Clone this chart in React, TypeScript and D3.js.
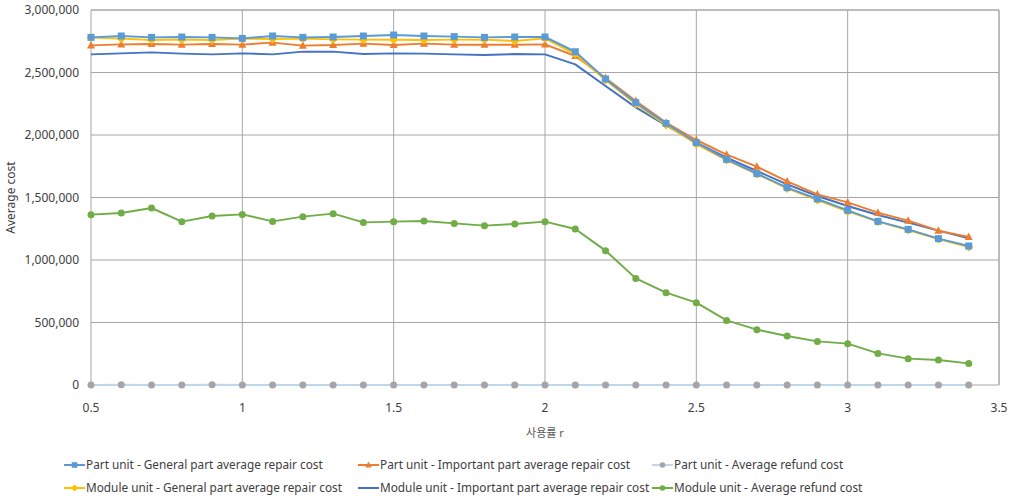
import React, { useRef, useEffect } from "react";
import * as d3 from "d3";

// usage rate r, 0.5 .. 3.4
const xs = [0.5, 0.6, 0.7, 0.8, 0.9, 1.0, 1.1, 1.2, 1.3, 1.4, 1.5, 1.6, 1.7, 1.8, 1.9, 2.0, 2.1, 2.2, 2.3, 2.4, 2.5, 2.6, 2.7, 2.8, 2.9, 3.0, 3.1, 3.2, 3.3, 3.4];

const partGeneral = [2781000, 2792000, 2781000, 2784000, 2781000, 2773000, 2792000, 2781000, 2784000, 2792000, 2800000, 2792000, 2787000, 2781000, 2784000, 2784000, 2666000, 2448000, 2259000, 2093000, 1939000, 1805000, 1691000, 1579000, 1488000, 1397000, 1309000, 1245000, 1171000, 1112000];
const partImportant = [2717000, 2725000, 2728000, 2723000, 2728000, 2723000, 2739000, 2715000, 2720000, 2731000, 2720000, 2731000, 2723000, 2723000, 2723000, 2725000, 2632000, 2456000, 2272000, 2099000, 1960000, 1843000, 1747000, 1629000, 1525000, 1461000, 1379000, 1315000, 1235000, 1184000];
const partRefund = [0, 3000, 0, 0, 3000, 0, 0, 0, 0, 0, 0, 0, 0, 0, 0, 0, 0, 0, 0, 0, 0, 0, 0, 0, 0, 0, 0, 0, 0, 0];
const moduleGeneral = [2779000, 2771000, 2760000, 2763000, 2760000, 2771000, 2768000, 2771000, 2765000, 2763000, 2763000, 2760000, 2763000, 2763000, 2752000, 2773000, 2648000, 2440000, 2248000, 2080000, 1928000, 1800000, 1688000, 1573000, 1480000, 1389000, 1307000, 1240000, 1168000, 1104000];
const moduleImportant = [2645000, 2653000, 2661000, 2651000, 2645000, 2653000, 2645000, 2667000, 2667000, 2648000, 2653000, 2651000, 2645000, 2640000, 2648000, 2645000, 2565000, 2392000, 2221000, 2077000, 1939000, 1819000, 1712000, 1605000, 1512000, 1432000, 1360000, 1299000, 1235000, 1173000];
const moduleRefund = [1363000, 1376000, 1416000, 1307000, 1352000, 1365000, 1309000, 1347000, 1371000, 1301000, 1307000, 1312000, 1293000, 1275000, 1288000, 1307000, 1248000, 1075000, 853000, 739000, 659000, 517000, 443000, 392000, 349000, 331000, 253000, 211000, 200000, 173000];

const xTicks = [0.5, 1, 1.5, 2, 2.5, 3, 3.5];
const yTicks = [0, 500000, 1000000, 1500000, 2000000, 2500000, 3000000];

const seriesNames = [
  "Part unit - General part average repair cost",
  "Part unit - Important part average repair cost",
  "Part unit - Average refund cost",
  "Module unit - General part average repair cost",
  "Module unit - Important part average repair cost",
  "Module unit - Average refund cost",
];

const W = 1011;
const H = 499;
const FONT = "'Noto Sans', 'Noto Sans CJK KR', sans-serif";

type Marker = "square" | "triangle" | "circle" | "diamond" | "none";

const App = () => {
  const ref = useRef<SVGSVGElement>(null);

  useEffect(() => {
    const svg = d3.select(ref.current);
    svg.selectAll("*").remove();

    const series: { name: string; values: number[]; line: string; fill: string; marker: Marker }[] = [
      { name: seriesNames[0], values: partGeneral, line: "#5B9BD5", fill: "#5B9BD5", marker: "square" },
      { name: seriesNames[1], values: partImportant, line: "#ED7D31", fill: "#ED7D31", marker: "triangle" },
      { name: seriesNames[2], values: partRefund, line: "#BDD7EE", fill: "#A5A5A5", marker: "circle" },
      { name: seriesNames[3], values: moduleGeneral, line: "#FFC000", fill: "#FFC000", marker: "diamond" },
      { name: seriesNames[4], values: moduleImportant, line: "#4472C4", fill: "#4472C4", marker: "none" },
      { name: seriesNames[5], values: moduleRefund, line: "#70AD47", fill: "#70AD47", marker: "circle" },
    ];

    const x = d3.scaleLinear().domain([0.5, 3.5]).range([91, 999]);
    const y = d3.scaleLinear().domain([0, 3000000]).range([385, 10]);

    const grid = svg.append("g");
    grid
      .selectAll("line.h")
      .data(yTicks)
      .join("line")
      .attr("x1", x(0.5))
      .attr("x2", x(3.5))
      .attr("y1", (d) => y(d))
      .attr("y2", (d) => y(d))
      .attr("stroke", "#A6A6A6")
      .attr("stroke-width", 1);
    grid
      .selectAll("line.v")
      .data(xTicks)
      .join("line")
      .attr("x1", (d) => x(d))
      .attr("x2", (d) => x(d))
      .attr("y1", y(0))
      .attr("y2", y(3000000))
      .attr("stroke", "#A6A6A6")
      .attr("stroke-width", 1);

    // tick labels
    svg
      .append("g")
      .selectAll("text")
      .data(yTicks)
      .join("text")
      .attr("x", 79)
      .attr("y", (d) => y(d))
      .attr("dy", "0.35em")
      .attr("text-anchor", "end")
      .attr("font-family", FONT)
      .attr("font-size", 12)
      .attr("fill", "#404040")
      .text((d) => d3.format(",")(d));

    svg
      .append("g")
      .selectAll("text")
      .data(xTicks)
      .join("text")
      .attr("x", (d) => x(d))
      .attr("y", 408)
      .attr("dy", "0.35em")
      .attr("text-anchor", "middle")
      .attr("font-family", FONT)
      .attr("font-size", 12)
      .attr("fill", "#404040")
      .text((d) => String(d));

    svg
      .append("text")
      .attr("x", 545)
      .attr("y", 433)
      .attr("dy", "0.35em")
      .attr("text-anchor", "middle")
      .attr("font-family", FONT)
      .attr("font-size", 11)
      .attr("fill", "#595959")
      .text("사용률 r");

    svg
      .append("text")
      .attr("transform", `translate(11, ${y(1500000)}) rotate(-90)`)
      .attr("dy", "0.35em")
      .attr("text-anchor", "middle")
      .attr("font-family", FONT)
      .attr("font-size", 12)
      .attr("fill", "#404040")
      .text("Average cost");

    const drawMarker = (g: any, kind: Marker, cx: number, cy: number, fill: string, s = 1) => {
      if (kind === "square") {
        g.append("rect").attr("x", cx - 3.5 * s).attr("y", cy - 3.5 * s).attr("width", 7 * s).attr("height", 7 * s).attr("fill", fill);
      } else if (kind === "triangle") {
        g.append("path").attr("d", `M${cx},${cy - 4.5 * s}L${cx + 4 * s},${cy + 3 * s}L${cx - 4 * s},${cy + 3 * s}Z`).attr("fill", fill);
      } else if (kind === "circle") {
        g.append("circle").attr("cx", cx).attr("cy", cy).attr("r", 3.5 * s).attr("fill", fill);
      } else if (kind === "diamond") {
        g.append("path").attr("d", `M${cx},${cy - 4.5 * s}L${cx + 4.5 * s},${cy}L${cx},${cy + 4.5 * s}L${cx - 4.5 * s},${cy}Z`).attr("fill", fill);
      }
    };

    // plot border (top / right), under the series
    svg
      .append("path")
      .attr("d", `M${x(0.5)},${y(3000000)}H${x(3.5)}V${y(0)}`)
      .attr("fill", "none")
      .attr("stroke", "#A6A6A6");

    const line = d3
      .line<number>()
      .x((_, i) => x(xs[i]))
      .y((d) => y(d));

    // draw order so top lines overlay like the original
    const order = [2, 5, 4, 1, 3, 0];
    order.forEach((si) => {
      const s = series[si];
      const g = svg.append("g");
      g.append("path")
        .attr("d", line(s.values))
        .attr("fill", "none")
        .attr("stroke", s.line)
        .attr("stroke-width", 2)
        .attr("stroke-linejoin", "round");
      s.values.forEach((v, i) => drawMarker(g, s.marker, x(xs[i]), y(v), s.fill));
    });

    // legend
    const cols = [64, 358, 652];
    const rows = [465, 488];
    series.forEach((s, i) => {
      const lx = cols[i % 3];
      const ly = rows[Math.floor(i / 3)];
      const g = svg.append("g");
      g.append("line")
        .attr("x1", lx)
        .attr("x2", lx + 21)
        .attr("y1", ly)
        .attr("y2", ly)
        .attr("stroke", s.line)
        .attr("stroke-width", 2);
      drawMarker(g, s.marker, lx + 10.5, ly, s.fill, 0.8);
      g.append("text")
        .attr("x", lx + 22)
        .attr("y", ly)
        .attr("dy", "0.35em")
        .attr("font-family", FONT)
        .attr("font-size", 11.8)
        .attr("fill", "#404040")
        .text(s.name);
    });

    return () => {
      d3.select(ref.current).selectAll("*").remove();
    };
  }, []);

  return (
    <svg
      ref={ref}
      width={W}
      height={H}
      style={{ position: "absolute", left: 0, top: 0, background: "#fff" }}
    ></svg>
  );
};

export default App;
